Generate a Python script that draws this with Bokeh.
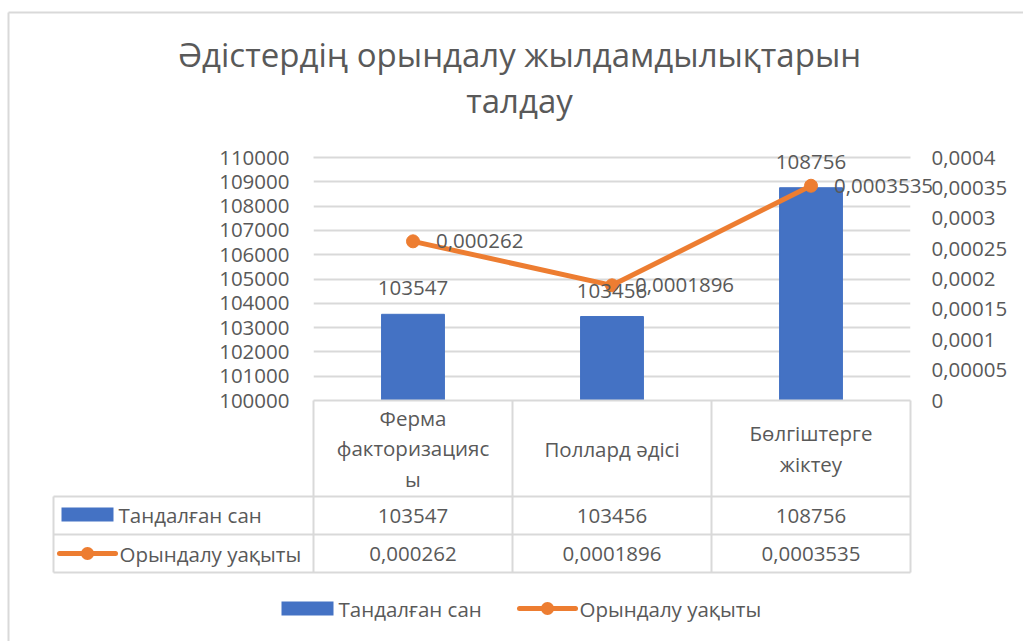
from bokeh.plotting import figure
from bokeh.models import (FactorRange, Range1d, LinearAxis, FixedTicker, NumeralTickFormatter,
                          CustomJSTickFormatter, ColumnDataSource)
from bokeh.core.properties import value
from bokeh.embed import file_html
from bokeh.resources import INLINE

# ---------------- data ----------------
categories = ["Ферма факторизациясы", "Поллард әдісі", "Бөлгіштерге жіктеу"]
header_labels = ["Ферма\nфакторизацияс\nы", "Поллард әдісі", "Бөлгіштерге\nжіктеу"]
series_names = ["Тандалған сан", "Орындалу уақыты"]
numbers = [103547, 103456, 108756]
times = [0.000262, 0.0001896, 0.0003535]
left_ticks = [100000, 101000, 102000, 103000, 104000, 105000, 106000, 107000, 108000, 109000, 110000]
right_ticks = [0, 0.00005, 0.0001, 0.00015, 0.0002, 0.00025, 0.0003, 0.00035, 0.0004]
right_labels = ["0", "0,00005", "0,0001", "0,00015", "0,0002", "0,00025", "0,0003", "0,00035", "0,0004"]
title_lines = ["Әдістердің орындалу жылдамдылықтарын", "талдау"]

# ---------------- style ----------------
FONT = value("Open Sans")
TXT = "#595959"
GRID = "#D9D9D9"
BLUE = "#4472C4"
ORANGE = "#ED7D31"
FS = value("20.5px")
TFS = value("33px")

W, H = 1023, 641
FL, FT, FR, FB = 313, 157, 910, 400     # plot frame in page pixels
NC = len(categories)
Y0, Y1 = left_ticks[0], left_ticks[-1]

def xd(X):   # page pixel -> x data (category units)
    return (X - FL) / (FR - FL) * NC

def yd(Y):   # page pixel -> left-axis data
    return Y0 + (FB - Y) / (FB - FT) * (Y1 - Y0)

p = figure(x_range=FactorRange(*categories), y_range=Range1d(Y0, Y1),
           width=W, height=H, output_backend="svg", toolbar_location=None,
           x_axis_location=None,
           min_border_left=FL, min_border_right=W - FR,
           min_border_top=FT, min_border_bottom=H - FB)
p.outline_line_color = None
p.background_fill_color = "white"
p.border_fill_color = "white"
p.xgrid.grid_line_color = None

p.extra_y_ranges = {"time": Range1d(right_ticks[0], right_ticks[-1])}

yl = p.yaxis[0]
yl.ticker = FixedTicker(ticks=left_ticks)
yl.formatter = NumeralTickFormatter(format="0")
yr = LinearAxis(y_range_name="time", ticker=FixedTicker(ticks=right_ticks),
                formatter=CustomJSTickFormatter(args=dict(tv=right_ticks, tl=right_labels), code="""
                    let best = 0, bd = 1e9;
                    for (let i = 0; i < tv.length; i++) { const d = Math.abs(tv[i] - tick); if (d < bd) { bd = d; best = i; } }
                    return tl[best];
                """))
p.add_layout(yr, "right")
for ax, so in ((yl, 24), (yr, 21)):
    ax.axis_line_color = None
    ax.major_tick_line_color = None
    ax.minor_tick_line_color = None
    ax.major_tick_out = 0
    ax.major_tick_in = 0
    ax.minor_tick_out = 0
    ax.major_label_standoff = so
    ax.major_label_text_font = "Open Sans"
    ax.major_label_text_font_size = "20.5px"
    ax.major_label_text_color = TXT

p.ygrid.ticker = FixedTicker(ticks=left_ticks)
p.ygrid.grid_line_color = GRID
p.ygrid.grid_line_width = 2

src = ColumnDataSource(dict(cat=categories, num=numbers, t=times, hdr=header_labels,
                            num_txt=[str(v) for v in numbers],
                            t_txt=[str(v).replace(".", ",") for v in times]))

TXTKW = dict(text_font=FONT, text_font_size=FS, text_color=TXT, level="overlay")

# ---- chart border (decoration) ----
p.segment(x0=[xd(8), xd(8)], y0=[yd(12), yd(12)], x1=[xd(8), xd(2000)], y1=[yd(2000), yd(12)],
          line_color=GRID, line_width=2, level="overlay")

# top gridline drawn again so it is not half-clipped by the frame edge
p.segment(x0=[0], y0=[Y1], x1=[NC], y1=[Y1], line_color=GRID, line_width=2, level="overlay")

# ---- series ----
bars = p.vbar(x="cat", top="num", bottom=Y0, width=0.316, source=src,
              fill_color=BLUE, line_color=BLUE)
line = p.line(x="cat", y="t", source=src, y_range_name="time", line_color=ORANGE,
              line_width=5, line_join="round", line_cap="round")
marks = p.scatter(x="cat", y="t", source=src, y_range_name="time", size=13,
                  fill_color=ORANGE, line_color=ORANGE)

# ---- data labels ----
p.text(x="cat", y="num", text="num_txt", source=src, y_offset=-26,
       text_align="center", text_baseline="middle", **TXTKW)
p.text(x="cat", y="t", text="t_txt", source=src, y_range_name="time",
       x_offset=23, y_offset=0, text_align="left", text_baseline="middle", **TXTKW)

# ---- data table ----
rows_y = [400, 496, 534, 572]
col_edges = list(range(NC + 1))
hx0, hy0, hx1, hy1 = [], [], [], []
hx0 += [0, xd(53), xd(53), xd(53)]
hx1 += [NC, NC, NC, NC]
hy0 += [yd(v) for v in rows_y]
hy1 += [yd(v) for v in rows_y]
for c in col_edges:
    hx0.append(c); hx1.append(c); hy0.append(yd(rows_y[0])); hy1.append(yd(rows_y[-1]))
hx0.append(xd(53)); hx1.append(xd(53)); hy0.append(yd(rows_y[1])); hy1.append(yd(rows_y[-1]))
p.segment(x0=hx0, y0=hy0, x1=hx1, y1=hy1, line_color=GRID, line_width=2, level="overlay")

p.text(x="cat", y=yd(448), text="hdr", source=src, text_align="center", text_baseline="middle",
       text_line_height=1.08, **TXTKW)
p.text(x="cat", y=yd(515), text="num_txt", source=src, text_align="center", text_baseline="middle", **TXTKW)
p.text(x="cat", y=yd(553), text="t_txt", source=src, text_align="center", text_baseline="middle", **TXTKW)

# ---- legend keys (table rows and bottom legend) ----
def key_bar(X, Yc, label):
    p.quad(left=[xd(X)], right=[xd(X + 52)], top=[yd(Yc - 7)], bottom=[yd(Yc + 7)],
           fill_color=BLUE, line_color=None, level="overlay")
    p.text(x=[xd(X + 57)], y=[yd(Yc)], text=[label], text_align="left", text_baseline="middle", **TXTKW)

def key_line(X, Yc, label):
    p.line(x=[xd(X), xd(X + 56)], y=[yd(Yc), yd(Yc)], line_color=ORANGE, line_width=5,
           line_cap="round", level="overlay")
    # round dot marker (a very short line with a round cap, so it is not culled outside the frame)
    p.line(x=[xd(X + 27.9), xd(X + 28.1)], y=[yd(Yc), yd(Yc)], line_color=ORANGE, line_width=13,
           line_cap="round", level="overlay")
    p.text(x=[xd(X + 60)], y=[yd(Yc)], text=[label], text_align="left", text_baseline="middle", **TXTKW)

key_bar(61, 514, series_names[0])
key_line(59, 553, series_names[1])
key_bar(281, 608, series_names[0])
key_line(519, 608, series_names[1])

# ---- title ----
p.text(x=[xd(519)], y=[yd(54)], text=[title_lines[0]], text_align="center", text_baseline="middle",
       text_font=FONT, text_font_size=TFS, text_color=TXT, level="overlay")
p.text(x=[xd(519)], y=[yd(100)], text=[title_lines[1]], text_align="center", text_baseline="middle",
       text_font=FONT, text_font_size=TFS, text_color=TXT, level="overlay")

open("out.html", "w").write(file_html(p, INLINE))
